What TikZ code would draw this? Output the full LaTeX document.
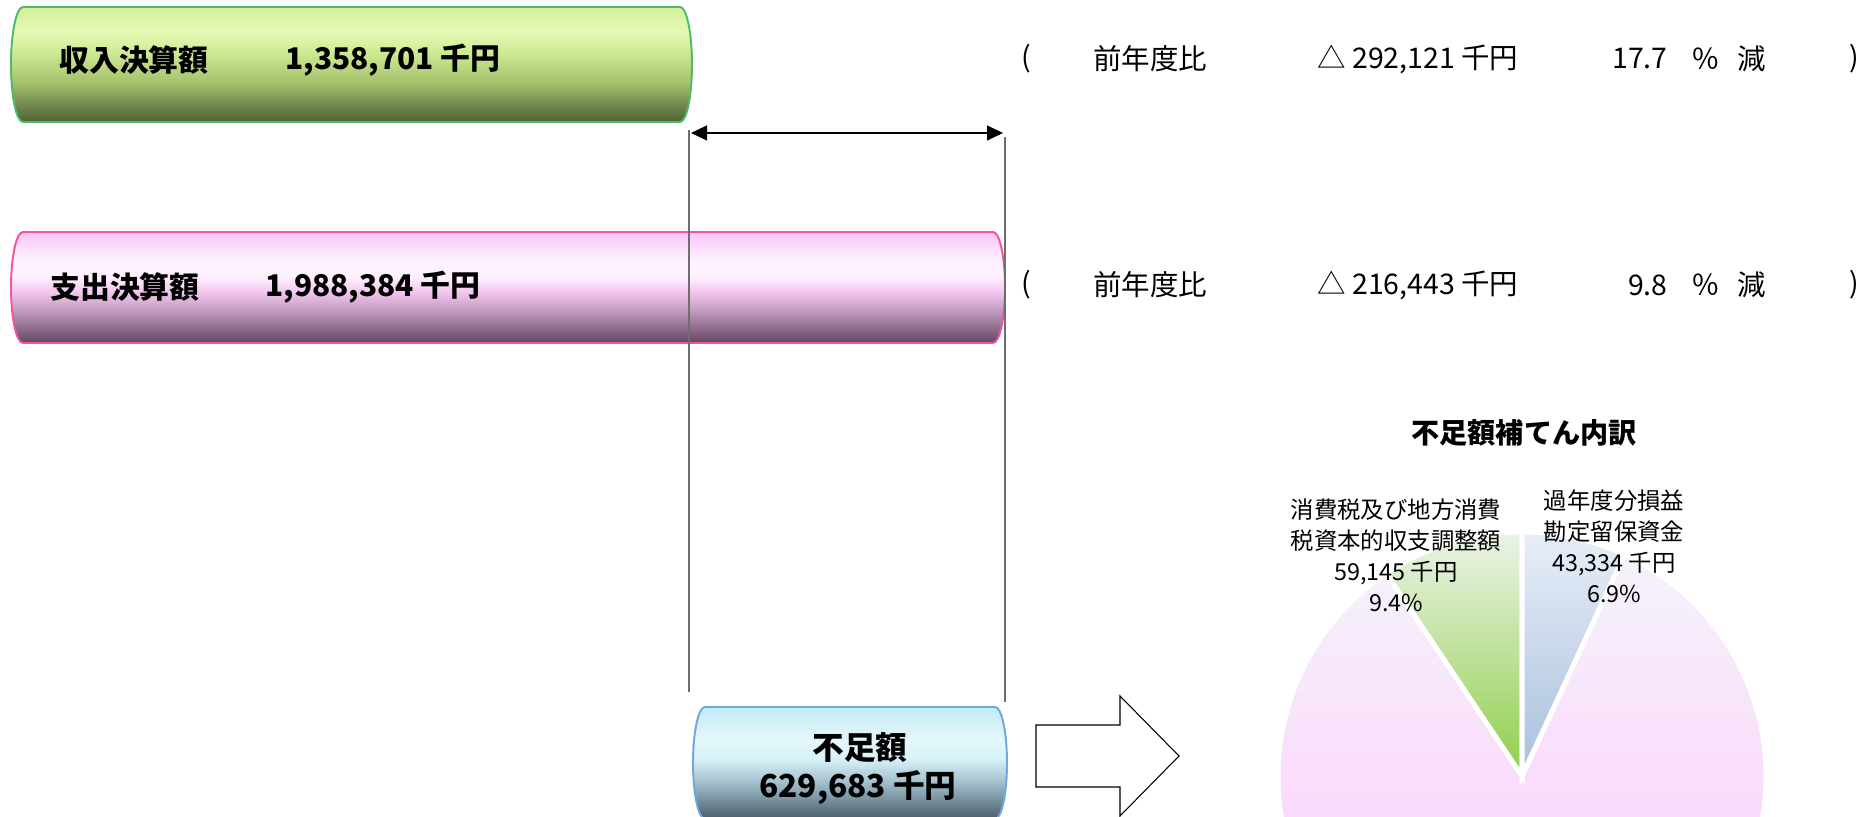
\documentclass[tikz,border=0pt]{standalone}
\usepackage{fontspec}
\setmainfont{Noto Sans CJK JP}
\usepackage{xcolor}
\usepackage{tikz}
\usetikzlibrary{arrows.meta}

\definecolor{incEdge}{HTML}{4CBB6C}
\definecolor{incD}{HTML}{4E6238}
\definecolor{incC}{HTML}{6C8049}
\definecolor{incB}{HTML}{A4C06C}
\definecolor{incA}{HTML}{CDEA92}
\definecolor{incH}{HTML}{E6F9B4}
\definecolor{incT}{HTML}{D3F09A}

\definecolor{expEdge}{HTML}{F0559F}
\definecolor{expD}{HTML}{634660}
\definecolor{expC}{HTML}{8A6886}
\definecolor{expB}{HTML}{C59CC1}
\definecolor{expA}{HTML}{F2C6EE}
\definecolor{expH}{HTML}{FFF2FF}
\definecolor{expT}{HTML}{F7C4F7}

\definecolor{gapEdge}{HTML}{6FA8DC}
\definecolor{gapD}{HTML}{4B5D69}
\definecolor{gapC}{HTML}{6E8794}
\definecolor{gapB}{HTML}{A5C3CF}
\definecolor{gapA}{HTML}{D7F1F8}
\definecolor{gapH}{HTML}{E4F7FB}
\definecolor{gapT}{HTML}{C3EAF6}

\definecolor{restT}{HTML}{F5F3FB}
\definecolor{restB}{HTML}{FFC2FB}
\definecolor{taxT}{HTML}{ECF3E8}
\definecolor{taxB}{HTML}{8FCF4A}
\definecolor{fundT}{HTML}{E8EEF7}
\definecolor{fundB}{HTML}{A7BFDD}
\definecolor{guide}{HTML}{6E6E6E}

\pgfdeclareverticalshading{incShade}{100bp}{color(0bp)=(incD); color(25bp)=(incD); color(31bp)=(incC); color(42bp)=(incB); color(55bp)=(incA); color(64bp)=(incH); color(75bp)=(incT); color(100bp)=(incT)}
\pgfdeclareverticalshading{expShade}{100bp}{color(0bp)=(expD); color(25bp)=(expD); color(31bp)=(expC); color(40bp)=(expB); color(48bp)=(expA); color(55bp)=(expH); color(62bp)=(expH); color(75bp)=(expT); color(100bp)=(expT)}
\pgfdeclareverticalshading{gapShade}{100bp}{color(0bp)=(gapD); color(25bp)=(gapD); color(32bp)=(gapC); color(42bp)=(gapB); color(52bp)=(gapA); color(60bp)=(gapH); color(75bp)=(gapT); color(100bp)=(gapT)}

% horizontal bar with rounded ends: left, right, bottom, top, style
\newcommand{\cylbar}[5]{%
  \pgfmathsetmacro\cylh{(#4-#3)/2}
  \path[#5] ({#1+12},#4) -- ({#2-12},#4)
    arc[start angle=90,end angle=-90,x radius=12,y radius=\cylh]
    -- ({#1+12},#3)
    arc[start angle=270,end angle=90,x radius=12,y radius=\cylh] -- cycle;}

\begin{document}
\begin{tikzpicture}[
					x = 0.02cm, y = 0.02cm,
					every node/.style = {inner sep = 0pt},
					barlabel/.style = {font = \fontsize{17}{20}\selectfont\bfseries},
					gaplabel/.style = {font = \fontsize{18}{21}\selectfont\bfseries},
					ratio/.style = {font = \fontsize{16.2}{19}\selectfont},
					pietitle/.style = {font = \fontsize{16}{19}\selectfont\bfseries},
					pielabel/.style = {font = \fontsize{13.3}{17.6}\selectfont, align = center},
					slice/.style = {shade, draw = white, line width = 0.1cm},
					guideline/.style = {draw = guide, line width = 0.75pt},
					bigarrow/.style = {draw, fill = white, line width = 0.6pt, line join = miter}
					]

					\useasboundingbox (0,0) rectangle (1875,817);
					\clip (0,0) rectangle (1875,817);

					\def\pieR{244}

					% bars
					\cylbar{11}{692}{695}{810}{shade, shading = incShade, draw = incEdge, line width = 1.1pt}
					\cylbar{11}{1005}{474}{585}{shade, shading = expShade, draw = expEdge, line width = 1.1pt}
					\cylbar{693}{1007}{-2}{110}{shade, shading = gapShade, draw = gapEdge, line width = 1.1pt}

					\node[barlabel,anchor=west] (incName) at (59,757) {収入決算額};
					\node[barlabel,anchor=west] (incValue) at (285,757) {1,358,701 千円};
					\node[barlabel,anchor=west] (expName) at (50,530) {支出決算額};
					\node[barlabel,anchor=west] (expValue) at (265,530) {1,988,384 千円};
					\node[gaplabel] (gapName) at (860,69) {不足額};
					\node[gaplabel] (gapValue) at (858,29) {629,683 千円};

					% comparison with previous year
					\foreach \yy/\diff/\pct/\nm in {758/{292,121}/17.7/inc, 532/{216,443}/9.8/exp}{
						\node[ratio] (\nm Open) at (1026,\yy) {(};
						\node[ratio] (\nm Prev) at (1150,\yy) {前年度比};
						\node[ratio,anchor=west] (\nm Diff) at (1317,\yy) {△ \diff\ 千円};
						\node[ratio,anchor=east] (\nm Pct) at (1668,\yy) {\pct};
						\node[ratio] (\nm Unit) at (1706,\yy) {％};
						\node[ratio] (\nm Down) at (1752,\yy) {減};
						\node[ratio] (\nm Close) at (1854,\yy) {)};
					}

					% gap between income and expenditure
					\coordinate (lnLtop) at (689,687);
					\coordinate (lnLbot) at (689,125);
					\coordinate (lnRtop) at (1005,680);
					\coordinate (lnRbot) at (1005,115);
					\coordinate (dimL) at (691,684);
					\coordinate (dimR) at (1003,684);
					\draw[guideline] (lnLtop) -- (lnLbot);
					\draw[guideline] (lnRtop) -- (lnRbot);
					\draw[line width=0.6pt,{Triangle[length=0.32cm,width=0.3cm]}-{Triangle[length=0.32cm,width=0.3cm]}] (dimL) -- (dimR);

					% block arrow towards the pie
					\path[bigarrow] (1036,92) -- (1120,92) -- (1120,121) -- (1179,61) -- (1120,1) -- (1120,30) -- (1036,30) -- cycle;

					% pie
					\coordinate (pieO) at (1522,41);
					\path[slice, top color = restT, bottom color = restB] (pieO) -- ++(123.84:\pieR) arc[start angle = 123.84, end angle = 425.16, radius = \pieR] -- cycle;
					\path[slice, top color = taxT, bottom color = taxB] (pieO) -- ++(90:\pieR) arc[start angle = 90, end angle = 123.84, radius = \pieR] -- cycle;
					\path[slice, top color = fundT, bottom color = fundB] (pieO) -- ++(65.16:\pieR) arc[start angle = 65.16, end angle = 90, radius = \pieR] -- cycle;

					\node[pietitle] (pieTitle) at (1524,384) {不足額補てん内訳};
					\node[pielabel] (taxLabel) at (1396,262) {消費税及び地方消費\\税資本的収支調整額\\59,145 千円\\9.4\%};
					\node[pielabel] (fundLabel) at (1614,271) {過年度分損益\\勘定留保資金\\43,334 千円\\6.9\%};

				\end{tikzpicture}
\end{document}
